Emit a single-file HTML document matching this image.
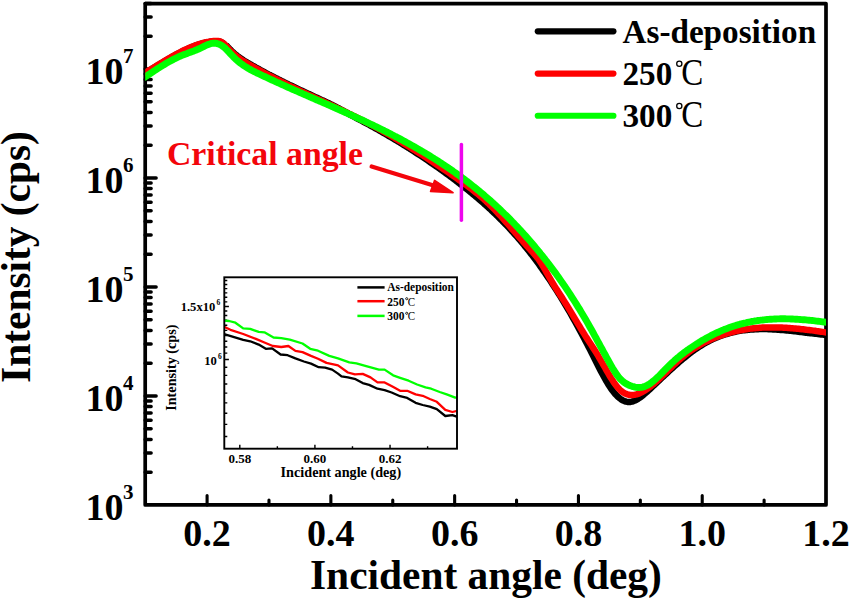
<!DOCTYPE html>
<html><head><meta charset="utf-8"><style>
html,body{margin:0;padding:0;background:#fff;width:850px;height:600px;overflow:hidden}
svg{display:block}
text{font-family:"Liberation Serif", serif}
</style></head><body>
<svg width="850" height="600" viewBox="0 0 850 600">
<rect width="850" height="600" fill="#fff"/>
<rect x="145.2" y="3.6" width="680.80" height="501.30" fill="none" stroke="#000" stroke-width="3.7" stroke-linejoin="round"/>
<path d="M207.09,504.90V495.50 M268.98,504.90V500.10 M330.87,504.90V495.50 M392.76,504.90V500.10 M454.65,504.90V495.50 M516.55,504.90V500.10 M578.44,504.90V495.50 M640.33,504.90V500.10 M702.22,504.90V495.50 M764.11,504.90V500.10" stroke="#000" stroke-width="3.1" stroke-linecap="round" fill="none"/>
<path d="M145.20,472.19H151.10 M145.20,452.99H151.10 M145.20,439.38H151.10 M145.20,428.81H151.10 M145.20,420.18H151.10 M145.20,412.88H151.10 M145.20,406.56H151.10 M145.20,400.99H151.10 M145.20,396.00H156.10 M145.20,363.19H151.10 M145.20,343.99H151.10 M145.20,330.38H151.10 M145.20,319.81H151.10 M145.20,311.18H151.10 M145.20,303.88H151.10 M145.20,297.56H151.10 M145.20,291.99H151.10 M145.20,287.00H156.10 M145.20,254.19H151.10 M145.20,234.99H151.10 M145.20,221.38H151.10 M145.20,210.81H151.10 M145.20,202.18H151.10 M145.20,194.88H151.10 M145.20,188.56H151.10 M145.20,182.99H151.10 M145.20,178.00H156.10 M145.20,145.19H151.10 M145.20,125.99H151.10 M145.20,112.38H151.10 M145.20,101.81H151.10 M145.20,93.18H151.10 M145.20,85.88H151.10 M145.20,79.56H151.10 M145.20,73.99H151.10 M145.20,69.00H156.10 M145.20,36.19H151.10 M145.20,16.99H151.10 M145.20,3.38H151.10" stroke="#000" stroke-width="3.5" stroke-linecap="round" fill="none"/>
<text x="207.09" y="545.8" text-anchor="middle" font-size="38" font-weight="bold">0.2</text>
<text x="330.87" y="545.8" text-anchor="middle" font-size="38" font-weight="bold">0.4</text>
<text x="454.65" y="545.8" text-anchor="middle" font-size="38" font-weight="bold">0.6</text>
<text x="578.44" y="545.8" text-anchor="middle" font-size="38" font-weight="bold">0.8</text>
<text x="702.22" y="545.8" text-anchor="middle" font-size="38" font-weight="bold">1.0</text>
<text x="826.00" y="545.8" text-anchor="middle" font-size="38" font-weight="bold">1.2</text>
<text x="123.5" y="519.60" text-anchor="end" font-size="38" font-weight="bold">10</text>
<text x="123" y="498.80" font-size="21" font-weight="bold">3</text>
<text x="123.5" y="410.60" text-anchor="end" font-size="38" font-weight="bold">10</text>
<text x="123" y="389.80" font-size="21" font-weight="bold">4</text>
<text x="123.5" y="301.60" text-anchor="end" font-size="38" font-weight="bold">10</text>
<text x="123" y="280.80" font-size="21" font-weight="bold">5</text>
<text x="123.5" y="192.60" text-anchor="end" font-size="38" font-weight="bold">10</text>
<text x="123" y="171.80" font-size="21" font-weight="bold">6</text>
<text x="123.5" y="83.60" text-anchor="end" font-size="38" font-weight="bold">10</text>
<text x="123" y="62.80" font-size="21" font-weight="bold">7</text>
<text x="310" y="588.5" font-size="41.4" font-weight="bold">Incident angle (deg)</text>
<text transform="translate(29.5,382.9) rotate(-90)" x="0" y="0" font-size="41.4" font-weight="bold">Intensity (cps)</text>
<clipPath id="cp"><rect x="145.2" y="3.6" width="680.80" height="501.30"/></clipPath>
<g clip-path="url(#cp)" fill="none" stroke-linecap="round" stroke-linejoin="round">
<path d="M140.0,76.0 L141.5,75.1 L143.0,74.2 L144.5,73.4 L146.0,72.5 L147.5,71.6 L149.0,70.7 L150.5,69.8 L152.0,68.9 L153.5,68.0 L155.0,67.0 L156.5,66.1 L158.0,65.2 L159.5,64.3 L161.0,63.4 L162.5,62.5 L164.0,61.6 L165.5,60.7 L167.0,59.8 L168.5,58.9 L170.0,58.1 L171.5,57.2 L173.0,56.3 L174.5,55.5 L176.0,54.7 L177.5,53.9 L179.0,53.1 L180.5,52.3 L182.0,51.5 L183.5,50.8 L185.0,50.1 L186.5,49.4 L188.0,48.7 L189.5,48.0 L191.0,47.4 L192.5,46.8 L194.0,46.2 L195.5,45.6 L197.0,45.1 L198.5,44.6 L200.0,44.1 L201.5,43.7 L203.0,43.3 L204.5,42.9 L206.0,42.5 L207.5,42.2 L209.0,42.0 L210.5,41.7 L212.0,41.5 L213.5,41.4 L215.0,41.3 L216.5,41.2 L218.0,41.3 L219.5,41.5 L221.0,42.1 L222.5,42.9 L224.0,44.1 L225.5,45.6 L227.0,46.1 L228.5,47.8 L230.0,49.4 L231.5,50.9 L233.0,52.3 L234.5,53.6 L236.0,54.9 L237.5,56.1 L239.0,57.2 L240.5,58.3 L242.0,59.3 L243.5,60.3 L245.0,61.2 L246.5,62.1 L248.0,63.0 L249.5,63.9 L251.0,64.7 L252.5,65.6 L254.0,66.4 L255.5,67.3 L257.0,68.1 L258.5,68.9 L260.0,69.8 L261.5,70.6 L263.0,71.4 L264.5,72.2 L266.0,73.0 L267.5,73.8 L269.0,74.6 L270.5,75.3 L272.0,76.1 L273.5,76.9 L275.0,77.7 L276.5,78.4 L278.0,79.2 L279.5,79.9 L281.0,80.7 L282.5,81.4 L284.0,82.2 L285.5,82.9 L287.0,83.6 L288.5,84.4 L290.0,85.1 L291.5,85.8 L293.0,86.5 L294.5,87.2 L296.0,88.0 L297.5,88.7 L299.0,89.4 L300.5,90.1 L302.0,90.8 L303.5,91.5 L305.0,92.2 L306.5,92.9 L308.0,93.6 L309.5,94.3 L311.0,95.0 L312.5,95.7 L314.0,96.4 L315.5,97.1 L317.0,97.8 L318.5,98.5 L320.0,99.2 L321.5,99.9 L323.0,100.5 L324.5,101.2 L326.0,101.9 L327.5,102.6 L329.0,103.3 L330.5,104.1 L332.0,104.8 L333.5,105.6 L335.0,106.4 L336.5,107.2 L338.0,107.9 L339.5,108.7 L341.0,109.6 L342.5,110.4 L344.0,111.2 L345.5,112.0 L347.0,112.9 L348.5,113.7 L350.0,114.6 L351.5,115.4 L353.0,116.2 L354.5,117.0 L356.0,117.8 L357.5,118.6 L359.0,119.4 L360.5,120.2 L362.0,121.0 L363.5,121.8 L365.0,122.6 L366.5,123.4 L368.0,124.2 L369.5,125.0 L371.0,125.9 L372.5,126.7 L374.0,127.5 L375.5,128.4 L377.0,129.2 L378.5,130.0 L380.0,130.9 L381.5,131.7 L383.0,132.6 L384.5,133.5 L386.0,134.3 L387.5,135.2 L389.0,136.1 L390.5,137.0 L392.0,137.8 L393.5,138.7 L395.0,139.6 L396.5,140.5 L398.0,141.4 L399.5,142.3 L401.0,143.3 L402.5,144.2 L404.0,145.1 L405.5,146.0 L407.0,147.0 L408.5,147.9 L410.0,148.9 L411.5,149.8 L413.0,150.8 L414.5,151.7 L416.0,152.7 L417.5,153.7 L419.0,154.6 L420.5,155.6 L422.0,156.6 L423.5,157.6 L425.0,158.6 L426.5,159.6 L428.0,160.6 L429.5,161.7 L431.0,162.7 L432.5,163.7 L434.0,164.8 L435.5,165.8 L437.0,166.9 L438.5,167.9 L440.0,169.0 L441.5,170.0 L443.0,171.1 L444.5,172.2 L446.0,173.3 L447.5,174.4 L449.0,175.5 L450.5,176.6 L452.0,177.7 L453.5,178.8 L455.0,180.0 L456.5,181.1 L458.0,182.3 L459.5,183.4 L461.0,184.6 L462.5,185.7 L464.0,186.9 L465.5,188.1 L467.0,189.3 L468.5,190.5 L470.0,191.7 L471.5,192.9 L473.0,194.2 L474.5,195.4 L476.0,196.7 L477.5,197.9 L479.0,199.2 L480.5,200.5 L482.0,201.8 L483.5,203.1 L485.0,204.5 L486.5,205.8 L488.0,207.2 L489.5,208.6 L491.0,209.9 L492.5,211.4 L494.0,212.8 L495.5,214.2 L497.0,215.7 L498.5,217.1 L500.0,218.6 L501.5,220.1 L503.0,221.7 L504.5,223.2 L506.0,224.8 L507.5,226.3 L509.0,227.9 L510.5,229.6 L512.0,231.2 L513.5,232.8 L515.0,234.5 L516.5,236.2 L518.0,237.9 L519.5,239.7 L521.0,241.4 L522.5,243.2 L524.0,245.0 L525.5,246.9 L527.0,248.7 L528.5,250.6 L530.0,252.5 L531.5,254.4 L533.0,256.4 L534.5,258.4 L536.0,260.4 L537.5,262.4 L539.0,264.4 L540.5,266.5 L542.0,268.6 L543.5,270.8 L545.0,272.9 L546.5,275.1 L548.0,277.3 L549.5,279.5 L551.0,281.8 L552.5,284.1 L554.0,286.4 L555.5,288.7 L557.0,291.1 L558.5,293.5 L560.0,295.9 L561.5,298.4 L563.0,300.8 L564.5,303.3 L566.0,305.8 L567.5,308.4 L569.0,310.9 L570.5,313.5 L572.0,316.2 L573.5,318.8 L575.0,321.5 L576.5,324.2 L578.0,326.9 L579.5,329.7 L581.0,332.4 L582.5,335.2 L584.0,338.1 L585.5,340.9 L587.0,343.8 L588.5,346.7 L590.0,349.6 L591.5,352.6 L593.0,355.5 L594.5,358.5 L596.0,361.5 L597.5,364.5 L599.0,367.5 L600.5,370.4 L602.0,373.2 L603.5,376.0 L605.0,378.7 L606.5,381.4 L608.0,383.9 L609.5,386.2 L611.0,388.5 L612.5,390.6 L614.0,392.5 L615.5,394.3 L617.0,395.9 L618.5,397.3 L620.0,398.5 L621.5,399.6 L623.0,400.5 L624.5,401.1 L626.0,401.6 L627.5,401.9 L629.0,402.0 L630.5,401.9 L632.0,401.6 L633.5,401.1 L635.0,400.5 L636.5,399.8 L638.0,398.9 L639.5,397.9 L641.0,396.8 L642.5,395.7 L644.0,394.4 L645.5,393.1 L647.0,391.8 L648.5,390.4 L650.0,389.0 L651.5,387.6 L653.0,386.2 L654.5,384.8 L656.0,383.4 L657.5,381.9 L659.0,380.5 L660.5,379.1 L662.0,377.7 L663.5,376.3 L665.0,374.9 L666.5,373.5 L668.0,372.1 L669.5,370.7 L671.0,369.3 L672.5,368.0 L674.0,366.6 L675.5,365.3 L677.0,364.0 L678.5,362.6 L680.0,361.3 L681.5,360.1 L683.0,358.8 L684.5,357.6 L686.0,356.4 L687.5,355.2 L689.0,354.0 L690.5,352.8 L692.0,351.7 L693.5,350.6 L695.0,349.5 L696.5,348.5 L698.0,347.5 L699.5,346.5 L701.0,345.6 L702.5,344.7 L704.0,343.8 L705.5,342.9 L707.0,342.1 L708.5,341.3 L710.0,340.5 L711.5,339.8 L713.0,339.1 L714.5,338.4 L716.0,337.8 L717.5,337.2 L719.0,336.6 L720.5,336.0 L722.0,335.5 L723.5,335.0 L725.0,334.5 L726.5,334.0 L728.0,333.6 L729.5,333.1 L731.0,332.8 L732.5,332.4 L734.0,332.0 L735.5,331.7 L737.0,331.4 L738.5,331.1 L740.0,330.9 L741.5,330.6 L743.0,330.4 L744.5,330.2 L746.0,330.0 L747.5,329.9 L749.0,329.7 L750.5,329.6 L752.0,329.5 L753.5,329.4 L755.0,329.3 L756.5,329.2 L758.0,329.2 L759.5,329.1 L761.0,329.1 L762.5,329.1 L764.0,329.1 L765.5,329.1 L767.0,329.1 L768.5,329.2 L770.0,329.2 L771.5,329.3 L773.0,329.4 L774.5,329.5 L776.0,329.6 L777.5,329.7 L779.0,329.8 L780.5,329.9 L782.0,330.0 L783.5,330.1 L785.0,330.3 L786.5,330.4 L788.0,330.6 L789.5,330.7 L791.0,330.9 L792.5,331.1 L794.0,331.2 L795.5,331.4 L797.0,331.6 L798.5,331.8 L800.0,331.9 L801.5,332.1 L803.0,332.3 L804.5,332.5 L806.0,332.7 L807.5,332.9 L809.0,333.0 L810.5,333.2 L812.0,333.4 L813.5,333.6 L815.0,333.7 L816.5,333.9 L818.0,334.1 L819.5,334.3 L821.0,334.4 L822.5,334.6 L824.0,334.7 L825.5,334.9 L827.0,335.0 L828.5,335.1 L830.0,335.2 L831.5,335.4" stroke="#000" stroke-width="6.5"/>
<path d="M140.0,75.7 L141.5,74.8 L143.0,73.9 L144.5,73.1 L146.0,72.2 L147.5,71.3 L149.0,70.4 L150.5,69.5 L152.0,68.6 L153.5,67.7 L155.0,66.7 L156.5,65.8 L158.0,64.9 L159.5,64.0 L161.0,63.1 L162.5,62.2 L164.0,61.3 L165.5,60.4 L167.0,59.5 L168.5,58.6 L170.0,57.8 L171.5,56.9 L173.0,56.0 L174.5,55.2 L176.0,54.4 L177.5,53.6 L179.0,52.8 L180.5,52.0 L182.0,51.2 L183.5,50.5 L185.0,49.8 L186.5,49.1 L188.0,48.4 L189.5,47.7 L191.0,47.1 L192.5,46.5 L194.0,45.9 L195.5,45.3 L197.0,44.8 L198.5,44.3 L200.0,43.8 L201.5,43.4 L203.0,43.0 L204.5,42.6 L206.0,42.2 L207.5,41.9 L209.0,41.7 L210.5,41.4 L212.0,41.2 L213.5,41.1 L215.0,41.0 L216.5,40.9 L218.0,41.0 L219.5,41.2 L221.0,41.8 L222.5,42.6 L224.0,43.8 L225.5,45.3 L227.0,46.9 L228.5,48.6 L230.0,50.2 L231.5,51.7 L233.0,53.1 L234.5,54.4 L236.0,55.7 L237.5,56.9 L239.0,58.0 L240.5,59.1 L242.0,60.1 L243.5,61.1 L245.0,62.0 L246.5,62.9 L248.0,63.8 L249.5,64.7 L251.0,65.5 L252.5,66.4 L254.0,67.2 L255.5,68.1 L257.0,68.9 L258.5,69.7 L260.0,70.6 L261.5,71.4 L263.0,72.2 L264.5,73.0 L266.0,73.8 L267.5,74.6 L269.0,75.4 L270.5,76.1 L272.0,76.9 L273.5,77.7 L275.0,78.5 L276.5,79.2 L278.0,80.0 L279.5,80.7 L281.0,81.5 L282.5,82.2 L284.0,83.0 L285.5,83.7 L287.0,84.4 L288.5,85.2 L290.0,85.9 L291.5,86.6 L293.0,87.3 L294.5,88.0 L296.0,88.8 L297.5,89.5 L299.0,90.2 L300.5,90.9 L302.0,91.6 L303.5,92.3 L305.0,93.0 L306.5,93.7 L308.0,94.4 L309.5,95.1 L311.0,95.8 L312.5,96.5 L314.0,97.2 L315.5,97.9 L317.0,98.6 L318.5,99.3 L320.0,100.0 L321.5,100.7 L323.0,101.3 L324.5,102.0 L326.0,102.7 L327.5,103.4 L329.0,104.1 L330.5,104.8 L332.0,105.5 L333.5,106.2 L335.0,106.9 L336.5,107.6 L338.0,108.4 L339.5,109.1 L341.0,109.8 L342.5,110.5 L344.0,111.2 L345.5,111.9 L347.0,112.6 L348.5,113.4 L350.0,114.1 L351.5,114.8 L353.0,115.6 L354.5,116.3 L356.0,117.0 L357.5,117.8 L359.0,118.5 L360.5,119.3 L362.0,120.1 L363.5,120.8 L365.0,121.6 L366.5,122.4 L368.0,123.2 L369.5,123.9 L371.0,124.7 L372.5,125.5 L374.0,126.3 L375.5,127.1 L377.0,127.9 L378.5,128.8 L380.0,129.6 L381.5,130.4 L383.0,131.3 L384.5,132.1 L386.0,133.0 L387.5,133.8 L389.0,134.7 L390.5,135.5 L392.0,136.4 L393.5,137.3 L395.0,138.2 L396.5,139.1 L398.0,140.0 L399.5,140.9 L401.0,141.8 L402.5,142.7 L404.0,143.6 L405.5,144.5 L407.0,145.4 L408.5,146.3 L410.0,147.3 L411.5,148.2 L413.0,149.2 L414.5,150.1 L416.0,151.1 L417.5,152.0 L419.0,153.0 L420.5,153.9 L422.0,154.9 L423.5,155.9 L425.0,156.8 L426.5,157.8 L428.0,158.8 L429.5,159.8 L431.0,160.8 L432.5,161.8 L434.0,162.8 L435.5,163.8 L437.0,164.8 L438.5,165.8 L440.0,166.8 L441.5,167.8 L443.0,168.8 L444.5,169.9 L446.0,170.9 L447.5,171.9 L449.0,172.9 L450.5,174.0 L452.0,175.0 L453.5,176.1 L455.0,177.1 L456.5,178.1 L458.0,179.2 L459.5,180.2 L461.0,181.3 L462.5,182.4 L464.0,183.5 L465.5,184.5 L467.0,185.6 L468.5,186.8 L470.0,187.9 L471.5,189.0 L473.0,190.2 L474.5,191.4 L476.0,192.6 L477.5,193.8 L479.0,195.0 L480.5,196.3 L482.0,197.6 L483.5,198.9 L485.0,200.2 L486.5,201.6 L488.0,203.0 L489.5,204.5 L491.0,205.9 L492.5,207.4 L494.0,208.9 L495.5,210.5 L497.0,212.1 L498.5,213.7 L500.0,215.3 L501.5,216.9 L503.0,218.6 L504.5,220.3 L506.0,222.0 L507.5,223.7 L509.0,225.4 L510.5,227.1 L512.0,228.8 L513.5,230.6 L515.0,232.3 L516.5,234.0 L518.0,235.8 L519.5,237.5 L521.0,239.2 L522.5,240.9 L524.0,242.7 L525.5,244.3 L527.0,246.0 L528.5,247.7 L530.0,249.3 L531.5,251.0 L533.0,252.6 L534.5,254.3 L536.0,256.0 L537.5,257.9 L539.0,259.9 L540.5,262.1 L542.0,264.5 L543.5,267.0 L545.0,269.6 L546.5,272.3 L548.0,275.0 L549.5,277.6 L551.0,280.2 L552.5,282.8 L554.0,285.2 L555.5,287.6 L557.0,289.9 L558.5,292.3 L560.0,294.6 L561.5,296.9 L563.0,299.2 L564.5,301.6 L566.0,304.0 L567.5,306.4 L569.0,308.9 L570.5,311.4 L572.0,313.9 L573.5,316.4 L575.0,318.9 L576.5,321.4 L578.0,323.9 L579.5,326.3 L581.0,328.8 L582.5,331.2 L584.0,333.7 L585.5,336.1 L587.0,338.4 L588.5,340.7 L590.0,343.0 L591.5,345.3 L593.0,347.6 L594.5,349.9 L596.0,352.3 L597.5,354.7 L599.0,357.3 L600.5,359.8 L602.0,362.5 L603.5,365.1 L605.0,367.7 L606.5,370.4 L608.0,373.0 L609.5,375.5 L611.0,378.0 L612.5,380.3 L614.0,382.6 L615.5,384.7 L617.0,386.6 L618.5,388.3 L620.0,389.9 L621.5,391.2 L623.0,392.3 L624.5,393.2 L626.0,393.9 L627.5,394.4 L629.0,394.8 L630.5,395.0 L632.0,395.0 L633.5,394.9 L635.0,394.7 L636.5,394.3 L638.0,393.8 L639.5,393.3 L641.0,392.6 L642.5,391.8 L644.0,391.0 L645.5,390.0 L647.0,389.0 L648.5,388.0 L650.0,386.9 L651.5,385.7 L653.0,384.5 L654.5,383.2 L656.0,381.9 L657.5,380.5 L659.0,379.2 L660.5,377.8 L662.0,376.3 L663.5,374.9 L665.0,373.4 L666.5,372.0 L668.0,370.5 L669.5,369.0 L671.0,367.6 L672.5,366.1 L674.0,364.7 L675.5,363.3 L677.0,361.9 L678.5,360.5 L680.0,359.2 L681.5,357.9 L683.0,356.7 L684.5,355.5 L686.0,354.3 L687.5,353.1 L689.0,352.0 L690.5,350.9 L692.0,349.9 L693.5,348.9 L695.0,347.9 L696.5,347.0 L698.0,346.1 L699.5,345.2 L701.0,344.3 L702.5,343.5 L704.0,342.7 L705.5,341.9 L707.0,341.2 L708.5,340.5 L710.0,339.8 L711.5,339.1 L713.0,338.5 L714.5,337.8 L716.0,337.2 L717.5,336.7 L719.0,336.1 L720.5,335.6 L722.0,335.1 L723.5,334.6 L725.0,334.1 L726.5,333.6 L728.0,333.2 L729.5,332.8 L731.0,332.4 L732.5,332.0 L734.0,331.6 L735.5,331.2 L737.0,330.9 L738.5,330.6 L740.0,330.3 L741.5,330.0 L743.0,329.7 L744.5,329.5 L746.0,329.3 L747.5,329.0 L749.0,328.8 L750.5,328.6 L752.0,328.5 L753.5,328.3 L755.0,328.2 L756.5,328.0 L758.0,327.9 L759.5,327.8 L761.0,327.7 L762.5,327.6 L764.0,327.5 L765.5,327.5 L767.0,327.4 L768.5,327.4 L770.0,327.4 L771.5,327.4 L773.0,327.4 L774.5,327.4 L776.0,327.4 L777.5,327.4 L779.0,327.5 L780.5,327.5 L782.0,327.6 L783.5,327.7 L785.0,327.8 L786.5,327.8 L788.0,327.9 L789.5,328.0 L791.0,328.2 L792.5,328.3 L794.0,328.4 L795.5,328.5 L797.0,328.7 L798.5,328.8 L800.0,329.0 L801.5,329.2 L803.0,329.3 L804.5,329.5 L806.0,329.7 L807.5,329.9 L809.0,330.0 L810.5,330.2 L812.0,330.4 L813.5,330.6 L815.0,330.8 L816.5,331.1 L818.0,331.3 L819.5,331.5 L821.0,331.7 L822.5,331.9 L824.0,332.1 L825.5,332.4 L827.0,332.6 L828.5,332.8 L830.0,333.1 L831.5,333.3" stroke="#f00" stroke-width="6.5"/>
<path d="M140.0,80.2 L141.5,79.2 L143.0,78.2 L144.5,77.3 L146.0,76.3 L147.5,75.3 L149.0,74.3 L150.5,73.3 L152.0,72.3 L153.5,71.3 L155.0,70.4 L156.5,69.4 L158.0,68.4 L159.5,67.5 L161.0,66.5 L162.5,65.6 L164.0,64.7 L165.5,63.8 L167.0,62.9 L168.5,62.0 L170.0,61.2 L171.5,60.4 L173.0,59.6 L174.5,58.8 L176.0,58.1 L177.5,57.4 L179.0,56.7 L180.5,56.0 L182.0,55.4 L183.5,54.8 L185.0,54.2 L186.5,53.7 L188.0,53.1 L189.5,52.6 L191.0,52.0 L192.5,51.4 L194.0,50.9 L195.5,50.3 L197.0,49.7 L198.5,49.0 L200.0,48.3 L201.5,47.6 L203.0,46.9 L204.5,46.1 L206.0,45.4 L207.5,44.8 L209.0,44.2 L210.5,43.7 L212.0,43.4 L213.5,43.2 L215.0,43.2 L216.5,43.4 L218.0,43.8 L219.5,44.4 L221.0,45.1 L222.5,46.1 L224.0,47.2 L225.5,48.6 L227.0,50.1 L228.5,51.7 L230.0,53.3 L231.5,54.9 L233.0,56.5 L234.5,58.0 L236.0,59.4 L237.5,60.8 L239.0,62.0 L240.5,63.2 L242.0,64.3 L243.5,65.4 L245.0,66.4 L246.5,67.3 L248.0,68.2 L249.5,69.1 L251.0,69.9 L252.5,70.7 L254.0,71.5 L255.5,72.2 L257.0,73.0 L258.5,73.7 L260.0,74.4 L261.5,75.1 L263.0,75.8 L264.5,76.5 L266.0,77.2 L267.5,77.9 L269.0,78.6 L270.5,79.3 L272.0,80.0 L273.5,80.7 L275.0,81.4 L276.5,82.1 L278.0,82.7 L279.5,83.4 L281.0,84.1 L282.5,84.8 L284.0,85.4 L285.5,86.1 L287.0,86.8 L288.5,87.5 L290.0,88.1 L291.5,88.8 L293.0,89.5 L294.5,90.1 L296.0,90.8 L297.5,91.4 L299.0,92.1 L300.5,92.8 L302.0,93.4 L303.5,94.1 L305.0,94.7 L306.5,95.4 L308.0,96.0 L309.5,96.7 L311.0,97.3 L312.5,98.0 L314.0,98.6 L315.5,99.3 L317.0,100.0 L318.5,100.6 L320.0,101.3 L321.5,101.9 L323.0,102.6 L324.5,103.2 L326.0,103.9 L327.5,104.5 L329.0,105.2 L330.5,105.9 L332.0,106.5 L333.5,107.2 L335.0,107.8 L336.5,108.5 L338.0,109.2 L339.5,109.8 L341.0,110.5 L342.5,111.2 L344.0,111.8 L345.5,112.5 L347.0,113.2 L348.5,113.9 L350.0,114.5 L351.5,115.2 L353.0,115.9 L354.5,116.6 L356.0,117.3 L357.5,118.0 L359.0,118.6 L360.5,119.3 L362.0,120.0 L363.5,120.7 L365.0,121.4 L366.5,122.2 L368.0,122.9 L369.5,123.6 L371.0,124.3 L372.5,125.0 L374.0,125.7 L375.5,126.5 L377.0,127.2 L378.5,127.9 L380.0,128.7 L381.5,129.4 L383.0,130.1 L384.5,130.9 L386.0,131.6 L387.5,132.4 L389.0,133.2 L390.5,133.9 L392.0,134.7 L393.5,135.5 L395.0,136.3 L396.5,137.0 L398.0,137.8 L399.5,138.6 L401.0,139.4 L402.5,140.2 L404.0,141.1 L405.5,141.9 L407.0,142.7 L408.5,143.5 L410.0,144.4 L411.5,145.2 L413.0,146.0 L414.5,146.9 L416.0,147.7 L417.5,148.6 L419.0,149.5 L420.5,150.4 L422.0,151.2 L423.5,152.1 L425.0,153.0 L426.5,153.9 L428.0,154.8 L429.5,155.7 L431.0,156.7 L432.5,157.6 L434.0,158.5 L435.5,159.5 L437.0,160.4 L438.5,161.4 L440.0,162.4 L441.5,163.3 L443.0,164.3 L444.5,165.3 L446.0,166.3 L447.5,167.3 L449.0,168.4 L450.5,169.4 L452.0,170.4 L453.5,171.5 L455.0,172.5 L456.5,173.6 L458.0,174.7 L459.5,175.8 L461.0,176.9 L462.5,178.0 L464.0,179.1 L465.5,180.2 L467.0,181.4 L468.5,182.5 L470.0,183.7 L471.5,184.9 L473.0,186.1 L474.5,187.3 L476.0,188.5 L477.5,189.7 L479.0,190.9 L480.5,192.2 L482.0,193.4 L483.5,194.7 L485.0,196.0 L486.5,197.3 L488.0,198.6 L489.5,199.9 L491.0,201.2 L492.5,202.6 L494.0,203.9 L495.5,205.3 L497.0,206.7 L498.5,208.1 L500.0,209.5 L501.5,211.0 L503.0,212.4 L504.5,213.9 L506.0,215.3 L507.5,216.8 L509.0,218.3 L510.5,219.8 L512.0,221.4 L513.5,222.9 L515.0,224.5 L516.5,226.1 L518.0,227.7 L519.5,229.3 L521.0,230.9 L522.5,232.5 L524.0,234.2 L525.5,235.9 L527.0,237.6 L528.5,239.3 L530.0,241.0 L531.5,242.7 L533.0,244.5 L534.5,246.3 L536.0,248.1 L537.5,249.9 L539.0,251.7 L540.5,253.6 L542.0,255.4 L543.5,257.3 L545.0,259.2 L546.5,261.2 L548.0,263.1 L549.5,265.1 L551.0,267.1 L552.5,269.1 L554.0,271.1 L555.5,273.1 L557.0,275.2 L558.5,277.3 L560.0,279.4 L561.5,281.6 L563.0,283.7 L564.5,285.9 L566.0,288.1 L567.5,290.4 L569.0,292.6 L570.5,294.9 L572.0,297.3 L573.5,299.6 L575.0,302.0 L576.5,304.4 L578.0,306.8 L579.5,309.2 L581.0,311.7 L582.5,314.2 L584.0,316.7 L585.5,319.3 L587.0,321.9 L588.5,324.5 L590.0,327.2 L591.5,329.8 L593.0,332.5 L594.5,335.3 L596.0,338.0 L597.5,340.8 L599.0,343.5 L600.5,346.3 L602.0,349.0 L603.5,351.8 L605.0,354.5 L606.5,357.3 L608.0,360.0 L609.5,362.7 L611.0,365.4 L612.5,368.0 L614.0,370.4 L615.5,372.8 L617.0,375.0 L618.5,376.9 L620.0,378.7 L621.5,380.2 L623.0,381.5 L624.5,382.6 L626.0,383.6 L627.5,384.4 L629.0,385.2 L630.5,385.8 L632.0,386.3 L633.5,386.7 L635.0,387.1 L636.5,387.4 L638.0,387.5 L639.5,387.5 L641.0,387.4 L642.5,387.1 L644.0,386.7 L645.5,386.1 L647.0,385.4 L648.5,384.6 L650.0,383.6 L651.5,382.5 L653.0,381.3 L654.5,380.1 L656.0,378.7 L657.5,377.3 L659.0,375.9 L660.5,374.4 L662.0,372.8 L663.5,371.3 L665.0,369.7 L666.5,368.2 L668.0,366.7 L669.5,365.2 L671.0,363.7 L672.5,362.3 L674.0,361.0 L675.5,359.6 L677.0,358.3 L678.5,357.1 L680.0,355.8 L681.5,354.6 L683.0,353.5 L684.5,352.3 L686.0,351.2 L687.5,350.1 L689.0,349.1 L690.5,348.0 L692.0,347.0 L693.5,346.0 L695.0,345.0 L696.5,344.0 L698.0,343.1 L699.5,342.1 L701.0,341.2 L702.5,340.3 L704.0,339.5 L705.5,338.6 L707.0,337.8 L708.5,337.0 L710.0,336.2 L711.5,335.4 L713.0,334.6 L714.5,333.9 L716.0,333.2 L717.5,332.5 L719.0,331.8 L720.5,331.1 L722.0,330.5 L723.5,329.9 L725.0,329.2 L726.5,328.7 L728.0,328.1 L729.5,327.5 L731.0,327.0 L732.5,326.5 L734.0,326.0 L735.5,325.6 L737.0,325.1 L738.5,324.7 L740.0,324.2 L741.5,323.8 L743.0,323.5 L744.5,323.1 L746.0,322.8 L747.5,322.4 L749.0,322.1 L750.5,321.8 L752.0,321.5 L753.5,321.3 L755.0,321.0 L756.5,320.8 L758.0,320.5 L759.5,320.3 L761.0,320.1 L762.5,320.0 L764.0,319.8 L765.5,319.6 L767.0,319.5 L768.5,319.4 L770.0,319.3 L771.5,319.2 L773.0,319.1 L774.5,319.0 L776.0,319.0 L777.5,318.9 L779.0,318.9 L780.5,318.8 L782.0,318.8 L783.5,318.8 L785.0,318.8 L786.5,318.9 L788.0,318.9 L789.5,318.9 L791.0,319.0 L792.5,319.0 L794.0,319.1 L795.5,319.2 L797.0,319.3 L798.5,319.4 L800.0,319.5 L801.5,319.6 L803.0,319.7 L804.5,319.8 L806.0,319.9 L807.5,320.1 L809.0,320.2 L810.5,320.4 L812.0,320.5 L813.5,320.7 L815.0,320.9 L816.5,321.1 L818.0,321.2 L819.5,321.4 L821.0,321.6 L822.5,321.8 L824.0,322.0 L825.5,322.2 L827.0,322.5 L828.5,322.7 L830.0,322.9 L831.5,323.1" stroke="#0f0" stroke-width="6.9"/>
</g>
<path d="M537.8,31.3H613.4" stroke="#000" stroke-width="6.2" stroke-linecap="round"/>
<text x="622.5" y="42.6" font-size="33.2" font-weight="bold">As-deposition</text>
<path d="M537.8,73.6H613.4" stroke="#f00" stroke-width="6.2" stroke-linecap="round"/>
<text x="622.5" y="84.6" font-size="33.2" font-weight="bold">250</text>
<circle cx="679.3" cy="63.8" r="2.6" fill="none" stroke="#000" stroke-width="1.3"/>
<text transform="translate(681.2,84.6) scale(0.88,1)" font-size="37.5">C</text>
<path d="M537.8,115.75H613.4" stroke="#0f0" stroke-width="6.2" stroke-linecap="round"/>
<text x="622.5" y="126.8" font-size="33.2" font-weight="bold">300</text>
<circle cx="679.3" cy="106.0" r="2.6" fill="none" stroke="#000" stroke-width="1.3"/>
<text transform="translate(681.2,126.8) scale(0.88,1)" font-size="37.5">C</text>
<text x="167" y="164.7" font-size="33.75" font-weight="bold" fill="#f3050b">Critical angle</text>
<path d="M371.6,166.5 L436,186.3" stroke="#f3050b" stroke-width="4.2" stroke-linecap="round" fill="none"/>
<path d="M453.1,192.7 L434.6,180.3 L430.5,191.6 Z" fill="#f3050b" stroke="#f3050b" stroke-width="1.5" stroke-linejoin="round"/>
<path d="M461.4,144.5V220.2" stroke="#ee05ee" stroke-width="3.5" stroke-linecap="round"/>
<rect x="224.3" y="277.3" width="232.7" height="171.39999999999998" fill="#fff" stroke="none"/>
<path d="M239.80,448.7V444.7 M277.36,448.7V446.2 M314.92,448.7V444.7 M352.48,448.7V446.2 M390.04,448.7V444.7 M427.60,448.7V446.2 M224.3,306.5H228.9 M224.3,359.5H228.9 M224.3,301.83H227.3 M224.3,297.31H227.3 M224.3,292.92H227.3 M224.3,288.67H227.3 M224.3,284.54H227.3 M224.3,280.53H227.3 M224.3,353.12H227.3 M224.3,347.04H227.3 M224.3,341.23H227.3 M224.3,335.67H227.3 M224.3,330.33H227.3 M224.3,325.20H227.3 M224.3,320.27H227.3 M224.3,315.52H227.3 M224.3,310.93H227.3 M224.3,367.23H227.3 M224.3,375.38H227.3 M224.3,383.99H227.3 M224.3,393.13H227.3 M224.3,402.85H227.3 M224.3,413.25H227.3 M224.3,424.42H227.3 M224.3,436.48H227.3" stroke="#000" stroke-width="1.4" fill="none"/>
<clipPath id="cpi"><rect x="224.3" y="277.3" width="232.7" height="171.39999999999998"/></clipPath>
<g clip-path="url(#cpi)" fill="none" stroke-linejoin="round">
<path d="M224.1,334.0 L233.3,336.8 L243.2,339.9 L250.2,341.3 L258.7,344.6 L265.8,348.8 L272.1,348.4 L280.6,354.5 L287.6,355.2 L295.4,358.4 L303.9,361.5 L311.0,363.6 L318.7,367.2 L325.1,367.6 L332.1,369.6 L338.0,373.6 L341.5,376.4 L347.9,377.4 L355.6,379.2 L362.7,383.1 L369.1,384.9 L377.5,388.7 L384.6,390.1 L391.6,392.5 L400.1,396.2 L407.2,397.9 L415.6,402.8 L422.7,405.0 L429.8,406.6 L436.8,409.2 L445.3,416.0 L452.4,415.1 L458.0,417.0" stroke="#000" stroke-width="2.3"/>
<path d="M224.1,326.9 L230.5,329.8 L243.2,334.0 L255.9,338.9 L264.4,342.5 L272.8,346.0 L281.3,347.0 L288.4,346.0 L295.4,350.9 L302.5,352.1 L311.0,355.9 L318.0,358.7 L326.5,362.9 L333.5,364.4 L338.0,365.4 L347.9,372.5 L354.9,374.3 L362.7,373.9 L370.5,377.4 L377.5,382.4 L384.6,382.4 L392.4,386.6 L400.1,390.8 L407.2,390.8 L415.6,394.4 L422.7,395.8 L429.8,399.0 L436.8,401.8 L445.3,409.9 L452.4,412.0 L458.0,410.6" stroke="#f00" stroke-width="2.3"/>
<path d="M224.1,320.6 L229.1,321.0 L235.4,322.7 L243.2,328.4 L250.2,328.8 L258.7,331.9 L264.4,332.3 L273.5,337.5 L281.3,338.2 L289.8,339.6 L302.5,343.5 L310.2,348.8 L318.0,350.7 L329.3,355.9 L338.0,358.4 L349.3,362.3 L356.4,363.3 L366.2,366.1 L378.9,369.6 L384.6,369.6 L393.1,375.3 L400.1,377.8 L408.6,380.7 L417.1,384.5 L425.5,387.3 L431.2,388.7 L439.7,392.0 L446.7,394.4 L455.2,397.6 L458.0,397.2" stroke="#0f0" stroke-width="2.3"/>
</g>
<rect x="224.3" y="277.3" width="232.7" height="171.39999999999998" fill="none" stroke="#000" stroke-width="1.9"/>
<text x="239.80" y="463" text-anchor="middle" font-size="13" font-weight="bold">0.58</text>
<text x="314.92" y="463" text-anchor="middle" font-size="13" font-weight="bold">0.60</text>
<text x="390.04" y="463" text-anchor="middle" font-size="13" font-weight="bold">0.62</text>
<text x="280.6" y="477.4" font-size="14.2" font-weight="bold">Incident angle (deg)</text>
<text transform="translate(176.3,410.8) rotate(-90)" font-size="14.2" font-weight="bold">Intensity (cps)</text>
<text x="216.8" y="364.8" text-anchor="end" font-size="12.6" font-weight="bold">10</text>
<text x="218.0" y="359.0" font-size="7.5" font-weight="bold">6</text>
<text x="215.3" y="311.2" text-anchor="end" font-size="12.6" font-weight="bold">1.5x10</text>
<text x="216.5" y="305.4" font-size="7.5" font-weight="bold">6</text>
<path d="M357.4,287.4H384.6" stroke="#000" stroke-width="2.5"/>
<text x="387.2" y="291.4" font-size="11.45" font-weight="bold">As-deposition</text>
<path d="M357.4,301.2H384.6" stroke="#f00" stroke-width="2.5"/>
<text x="387.2" y="305.7" font-size="11.45" font-weight="bold">250</text>
<circle cx="406.7" cy="298.7" r="1.05" fill="none" stroke="#000" stroke-width="0.85"/>
<text transform="translate(407.8,305.7) scale(0.86,1)" font-size="12.82">C</text>
<path d="M357.4,315.9H384.6" stroke="#0f0" stroke-width="2.5"/>
<text x="387.2" y="320.3" font-size="11.45" font-weight="bold">300</text>
<circle cx="406.7" cy="313.3" r="1.05" fill="none" stroke="#000" stroke-width="0.85"/>
<text transform="translate(407.8,320.3) scale(0.86,1)" font-size="12.82">C</text>
</svg>
</body></html>
